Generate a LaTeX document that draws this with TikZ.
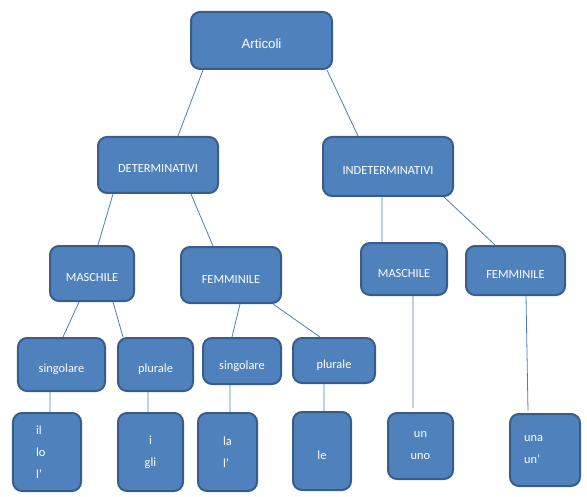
\documentclass[tikz,border=0pt]{standalone}
\usepackage{fontspec}
\setmainfont{Carlito}
\newfontfamily\arialfont{Liberation Sans}
\usepackage{tikz}
\usetikzlibrary{positioning,calc}
\definecolor{boxfill}{HTML}{4F81BD}
\definecolor{boxline}{HTML}{385D8A}
\definecolor{linkline}{HTML}{4A7EBB}

\begin{document}
\begin{tikzpicture}[x=1bp,y=-1bp,
  box/.style={draw=boxline,fill=boxfill,line width=2bp,rounded corners=9bp,
    text=white,inner sep=0pt,font=\fontsize{12.4bp}{22bp}\selectfont},
  single/.style={box,text height=16bp,text depth=0pt},
  multi/.style={box,align=left},
  link/.style={draw=linkline,line width=0.8bp}]
  \useasboundingbox (0,0) rectangle (587,497);
  % livello 0
  \node[single,minimum width=141bp,minimum height=57bp,font=\arialfont\fontsize{13.3bp}{16bp}\selectfont] (art) at (261.5,40.5) {Articoli};
  % livello 1
  \node[single,minimum width=120bp,minimum height=56bp] (det) at (158,165) {DETERMINATIVI};
  \node[single,minimum width=130bp,minimum height=59bp] (ind) at (388,166.5) {INDETERMINATIVI};
  % livello 2
  \node[single,minimum width=84bp,minimum height=55bp] (mascL) at (92,273.5) {MASCHILE};
  \node[single,minimum width=100bp,minimum height=56bp] (femL) at (231,275) {FEMMINILE};
  \node[single,minimum width=86bp,minimum height=52bp] (mascR) at (404,269) {MASCHILE};
  \node[single,minimum width=99bp,minimum height=49bp] (femR) at (515.5,270.5) {FEMMINILE};
  % livello 3
  \node[single,minimum width=87bp,minimum height=53bp] (singM) at (61.5,364.5) {singolare};
  \node[single,minimum width=75bp,minimum height=53bp] (plurM) at (155.5,364.5) {plurale};
  \node[single,minimum width=78bp,minimum height=46bp] (singF) at (242,361) {singolare};
  \node[single,minimum width=82bp,minimum height=45bp] (plurF) at (334,360.5) {plurale};
  % articoli
  \node[multi,minimum width=68bp,minimum height=78bp,text width=22bp] (ilLo) at (47,452) {il\\lo\\l’};
  \node[multi,align=center,minimum width=65bp,minimum height=78bp] (iGli) at (150.5,452) {i\\gli};
  \node[multi,minimum width=59bp,minimum height=78bp,text width=9bp] (laL) at (227.5,452) {la\\l’};
  \node[single,minimum width=58bp,minimum height=78bp] (le) at (322,451) {le};
  \node[multi,align=center,minimum width=65bp,minimum height=66bp] (unUno) at (420.5,446) {un\\uno};
  \node[multi,minimum width=70bp,minimum height=72bp,text width=42bp] (unaUn) at (545,450) {una\\un’};
  % collegamenti
  \draw[link] ([xshift=-58.5bp]art.south) -- ([xshift=20bp]det.north);
  \draw[link] ([xshift=65.5bp]art.south) -- ([xshift=-30bp]ind.north);
  \draw[link] ([xshift=-45bp]det.south) -- ([xshift=6bp]mascL.north);
  \draw[link] ([xshift=33bp]det.south) -- ([xshift=-18bp]femL.north);
  \draw[link] ([xshift=-6bp]ind.south) -- ([xshift=-22bp]mascR.north);
  \draw[link] ([xshift=56bp]ind.south) -- ([xshift=-20.5bp]femR.north);
  \draw[link] ([xshift=-13bp]mascL.south) -- ([xshift=1.5bp]singM.north);
  \draw[link] ([xshift=21bp]mascL.south) -- ([xshift=-32.5bp]plurM.north);
  \draw[link] ([xshift=9bp]femL.south) -- ([xshift=-10bp]singF.north);
  \draw[link] ([xshift=42bp]femL.south) -- ([xshift=-14bp]plurF.north);
  \draw[link] ([xshift=-11.5bp]singM.south) -- ([xshift=3bp]ilLo.north);
  \draw[link] ([xshift=-7.5bp]plurM.south) -- ([xshift=-2.5bp]iGli.north);
  \draw[link] ([xshift=-12bp]singF.south) -- ([xshift=2.5bp]laL.north);
  \draw[link] ([xshift=-10bp]plurF.south) -- ([xshift=2bp]le.north);
  \draw[link] ([xshift=9bp]mascR.south) -- ([xshift=-7.5bp,yshift=4bp]unUno.north);
  \draw[link] ([xshift=10.5bp]femR.south) -- ([xshift=-17bp,yshift=2bp]unaUn.north);
\end{tikzpicture}
\end{document}
